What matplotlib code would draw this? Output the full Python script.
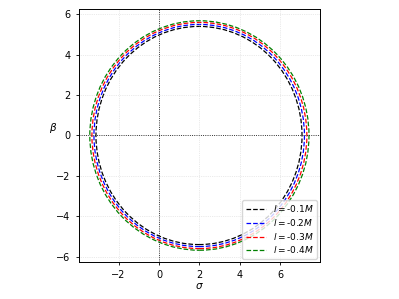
import matplotlib
matplotlib.use('Agg')
import matplotlib.pyplot as plt
from matplotlib.patches import Ellipse
from matplotlib.lines import Line2D

# shadow outlines: centre on sigma axis, full width, full height
labels = ['$l=$-0.1$M$', '$l=$-0.2$M$', '$l=$-0.3$M$', '$l=$-0.4$M$']
colors = ['k', 'b', 'r', 'g']
centers = [1.98, 1.99, 2.0, 2.0]
widths = [10.20, 10.42, 10.64, 10.85]
heights = [10.80, 11.00, 11.20, 11.36]

fig = plt.figure(figsize=(3.99, 2.99), dpi=100)
ax = fig.add_axes([79 / 399, 1 - 262 / 299, 241 / 399, 253 / 299])

handles = []
for lab, c, x0, w, h in zip(labels, colors, centers, widths, heights):
    e = Ellipse((x0, 0), w, h, fill=False, edgecolor=c, linestyle='--', linewidth=0.9)
    ax.add_patch(e)
    handles.append(Line2D([], [], color=c, linestyle='--', linewidth=0.9, label=lab))

ax.axhline(0, color='k', linestyle=':', linewidth=0.6)
ax.axvline(0, color='k', linestyle=':', linewidth=0.6)
ax.grid(True, linestyle=':', linewidth=0.5, alpha=0.5)

ax.set_xlim(-3.96, 7.97)
ax.set_ylim(-6.25, 6.25)
ax.set_aspect('equal')
ax.set_xticks([-2, 0, 2, 4, 6])
ax.set_yticks([-6, -4, -2, 0, 2, 4, 6])
ax.tick_params(labelsize=7, length=2.5, width=0.6)
for s in ax.spines.values():
    s.set_linewidth(0.7)

ax.set_xlabel(r'$\sigma$', fontsize=7.5, labelpad=1)
ax.set_ylabel(r'$\beta$', fontsize=7.5, rotation=0, labelpad=2)

ax.legend(handles=handles, loc='lower right', fontsize=6.5, handlelength=2.2, borderpad=0.4,
          labelspacing=0.3, handletextpad=0.8, borderaxespad=0.3)

plt.savefig('out.png', dpi=100)
